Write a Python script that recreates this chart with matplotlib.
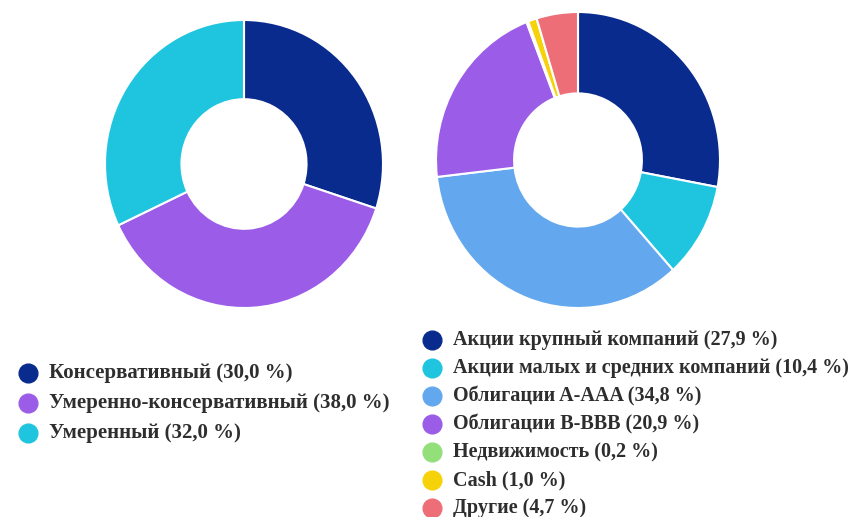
import matplotlib.pyplot as plt

# left donut
left_labels = ['Консервативный', 'Умеренно-консервативный', 'Умеренный']
left_values = [30.0, 38.0, 32.0]
left_colors = ['#0a2b8e', '#9b5de8', '#1fc5de']

# right donut
right_labels = ['Акции крупный компаний', 'Акции малых и средних компаний',
                'Облигации A-AAA', 'Облигации B-BBB', 'Недвижимость',
                'Cash', 'Другие']
right_values = [27.9, 10.4, 34.8, 20.9, 0.2, 1.0, 4.7]
right_colors = ['#0a2b8e', '#1fc5de', '#63a8ee', '#9b5de8', '#93e07a',
                '#f6d20a', '#ee6e78']

W, H = 858, 517
fig = plt.figure(figsize=(W / 100, H / 100), dpi=100)
plt.rcParams['font.family'] = ['Liberation Serif', 'DejaVu Serif']


def donut(cx, cy, rx, ry, values, colors):
    # slightly elliptical like the (resized) original
    ax = fig.add_axes([(cx - rx) / W, (H - cy - ry) / H, 2 * rx / W, 2 * ry / H])
    ax.pie(values, colors=colors, startangle=90, counterclock=False,
           radius=1, wedgeprops=dict(width=0.55, edgecolor='white', linewidth=1.5))
    ax.set_aspect('auto')
    ax.set_xlim(-1, 1)
    ax.set_ylim(-1, 1)
    ax.axis('off')


donut(244, 164, 139, 144, left_values, left_colors)
donut(578, 160, 142, 148, right_values, right_colors)

# legends drawn in pixel coordinates
leg = fig.add_axes([0, 0, 1, 1])
leg.set_xlim(0, W)
leg.set_ylim(H, 0)
leg.axis('off')


def fmt(v):
    return f'{v:.1f}'.replace('.', ',')


def legend(x, y0, dy, labels, values, colors, fs):
    for i, (lab, v, c) in enumerate(zip(labels, values, colors)):
        y = y0 + i * dy
        leg.plot(x, y, 'o', ms=13.5, color=c)
        leg.text(x + 21, y, f'{lab} ({fmt(v)} %)', fontsize=fs, weight='bold',
                 va='center', color='#2e2e2e')


legend(28, 373, 30, left_labels, left_values, left_colors, 15)
legend(432, 340, 28, right_labels, right_values, right_colors, 14.5)

fig.savefig('out.png', dpi=100)
